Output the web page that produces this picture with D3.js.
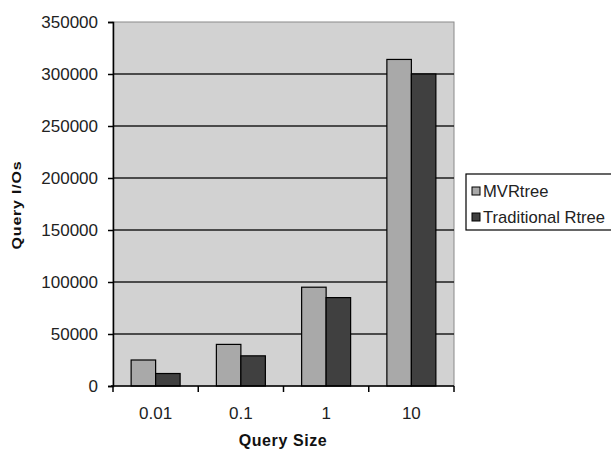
<!DOCTYPE html>
<html>
<head>
<meta charset="utf-8">
<script src="https://cdn.jsdelivr.net/npm/d3@7"></script>
<style>
  html, body { margin: 0; padding: 0; background: #fff; }
  svg { display: block; font-family: "Liberation Sans", Arial, sans-serif; }
</style>
</head>
<body>
<svg id="chart" width="611" height="452"></svg>
<script>
// Query sizes on the x axis
const categories = ["0.01", "0.1", "1", "10"];
// Series names and their query I/O counts
const seriesNames = ["MVRtree", "Traditional Rtree"];
const mvrtreeIOs = [25000, 40000, 95000, 314000];
const traditionalIOs = [12000, 29000, 85000, 300000];
// Y axis tick values
const yTicks = [0, 50000, 100000, 150000, 200000, 250000, 300000, 350000];

const seriesValues = [mvrtreeIOs, traditionalIOs];
const seriesColors = ["#a9a9a9", "#404040"];

const plot = { left: 113, top: 22, right: 454, bottom: 386 };
const svg = d3.select("#chart");

const x = d3.scaleBand().domain(categories).range([plot.left, plot.right]);
const x1 = d3.scaleBand().domain(seriesNames).range([0, x.bandwidth()]).paddingOuter(0.74);
const y = d3.scaleLinear().domain([0, 350000]).range([plot.bottom, plot.top]);

// plot area background
svg.append("rect")
  .attr("x", plot.left).attr("y", plot.top)
  .attr("width", plot.right - plot.left).attr("height", plot.bottom - plot.top)
  .attr("fill", "#d2d2d2").attr("stroke", "#8a8a8a").attr("stroke-width", 1);

// horizontal gridlines
svg.append("g").selectAll("line")
  .data(yTicks.filter(t => t > 0 && t < 350000))
  .join("line")
  .attr("x1", plot.left).attr("x2", plot.right)
  .attr("y1", d => y(d)).attr("y2", d => y(d))
  .attr("stroke", "#1e1e1e").attr("stroke-width", 1.5);

// bars
const groups = svg.append("g").selectAll("g")
  .data(categories)
  .join("g")
  .attr("transform", d => `translate(${x(d)},0)`);

groups.selectAll("rect")
  .data((d, i) => seriesNames.map((s, j) => ({ s, v: seriesValues[j][i], c: seriesColors[j] })))
  .join("rect")
  .attr("x", d => x1(d.s))
  .attr("y", d => y(d.v))
  .attr("width", x1.bandwidth())
  .attr("height", d => y(0) - y(d.v))
  .attr("fill", d => d.c)
  .attr("stroke", "#000").attr("stroke-width", 1.2);

// y axis
const yAxis = svg.append("g")
  .attr("transform", `translate(${plot.left},0)`)
  .call(d3.axisLeft(y).tickValues(yTicks).tickFormat(d3.format("d")).tickSize(5).tickPadding(10));
yAxis.select(".domain").attr("stroke", "#000").attr("stroke-width", 1.5);
yAxis.selectAll(".tick line").attr("stroke", "#000").attr("stroke-width", 1.5);
yAxis.selectAll("text").attr("font-size", 17).attr("fill", "#222")
  .attr("font-family", "'Liberation Sans', Arial, sans-serif");

// x axis: ticks sit on category boundaries, labels centred in each band
const xAxisG = svg.append("g");
xAxisG.append("line")
  .attr("x1", plot.left - 2).attr("x2", plot.right)
  .attr("y1", plot.bottom).attr("y2", plot.bottom)
  .attr("stroke", "#000").attr("stroke-width", 1.5);
const boundaries = categories.map(c => x(c)).concat([x(categories[categories.length - 1]) + x.bandwidth()]);
xAxisG.selectAll("line.tk")
  .data(boundaries)
  .join("line").attr("class", "tk")
  .attr("x1", d => d).attr("x2", d => d)
  .attr("y1", plot.bottom).attr("y2", plot.bottom + 6)
  .attr("stroke", "#000").attr("stroke-width", 1.5);
xAxisG.selectAll("text")
  .data(categories)
  .join("text")
  .attr("x", d => x(d) + x.bandwidth() / 2)
  .attr("y", 419)
  .attr("text-anchor", "middle")
  .attr("font-size", 17).attr("fill", "#222")
  .text(d => d);

// axis titles
svg.append("text")
  .attr("x", 283).attr("y", 446)
  .attr("text-anchor", "middle")
  .attr("font-size", 16).attr("font-weight", "bold").attr("letter-spacing", 0.6)
  .attr("fill", "#111")
  .text("Query Size");

svg.append("text")
  .attr("transform", "translate(21,205) rotate(-90) scale(1,0.78)")
  .attr("text-anchor", "middle")
  .attr("font-size", 16).attr("font-weight", "bold").attr("letter-spacing", 0.8)
  .attr("fill", "#111")
  .text("Query I/Os");

// legend
const legend = svg.append("g");
legend.append("rect")
  .attr("x", 466).attr("y", 174).attr("width", 150).attr("height", 56)
  .attr("fill", "#fff").attr("stroke", "#000").attr("stroke-width", 1.2);
const items = legend.selectAll("g.item")
  .data(seriesNames)
  .join("g").attr("class", "item")
  .attr("transform", (d, i) => `translate(472,${191 + i * 26})`);
items.append("rect")
  .attr("x", 0).attr("y", -4).attr("width", 8).attr("height", 8)
  .attr("fill", (d, i) => seriesColors[i]).attr("stroke", "#000").attr("stroke-width", 1);
items.append("text")
  .attr("x", 11).attr("y", 0).attr("dy", "0.36em")
  .attr("font-size", 16.6).attr("fill", "#222")
  .text(d => d);
</script>
</body>
</html>
